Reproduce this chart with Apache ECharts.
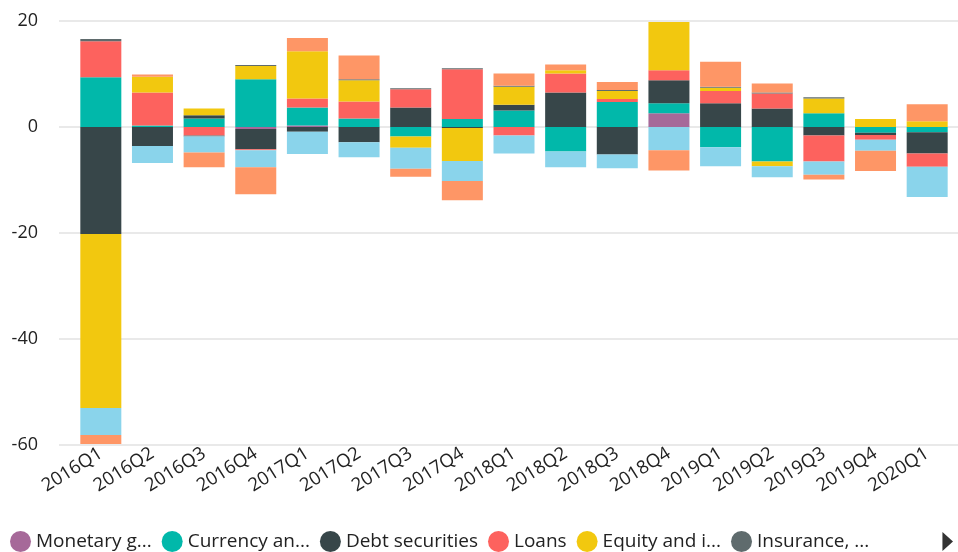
<!DOCTYPE html>
<html lang="en">
<head>
<meta charset="utf-8" />
<title>Financial account</title>
<script src="https://cdn.jsdelivr.net/npm/echarts@6/dist/echarts.min.js"></script>
<style>
  html, body { margin: 0; padding: 0; background: #fff; }
  #main { width: 958px; height: 552px; }
</style>
</head>
<body>
<div id="main"></div>
<script>
// quarters on the x axis
var quarters = ['2016Q1', '2016Q2', '2016Q3', '2016Q4', '2017Q1', '2017Q2', '2017Q3', '2017Q4',
  '2018Q1', '2018Q2', '2018Q3', '2018Q4', '2019Q1', '2019Q2', '2019Q3', '2019Q4', '2020Q1'];

// values per instrument
var monetaryGold = [0, 0, 0, -0.4, 0.3, 0, 0, 0, 0, 0, 0, 2.6, 0, 0, 0, 0, 0];
var currencyDeposits = [9.4, 0.3, 1.6, 9.0, 3.4, 1.6, -1.8, 1.5, 3.1, -4.6, 4.7, 1.9, -3.8, -6.5, 2.6, -1.1, -1.0];
var debtSecurities = [-20.2, -3.6, 0.6, -3.8, -0.9, -2.9, 3.7, -0.2, 1.1, 6.5, -5.2, 4.3, 4.5, 3.5, -1.6, -0.4, -4.0];
var loans = [6.8, 6.2, -1.6, -0.2, 1.7, 3.2, 3.4, 9.4, -1.6, 3.6, 0.6, 1.9, 2.3, 2.8, -4.9, -0.9, -2.5];
var equity = [-32.8, 3.0, 1.3, 2.5, 8.9, 4.0, -2.1, -6.2, 3.4, 0.6, 1.5, 9.1, 0.6, -0.9, 2.8, 1.5, 1.1];
var insurance = [0.4, 0, -0.2, 0.2, 0, 0.2, 0.2, 0.2, 0.2, 0, 0.2, 0, 0.2, 0.2, 0.2, 0, 0];
var derivatives = [-5.1, -3.2, -3.0, -3.2, -4.2, -2.8, -4.0, -3.8, -3.4, -3.0, -2.6, -4.4, -3.6, -2.1, -2.5, -2.1, -5.7];
var otherAccounts = [-1.7, 0.4, -2.8, -5.1, 2.5, 4.5, -1.5, -3.6, 2.3, 1.1, 1.5, -3.8, 4.7, 1.7, -0.9, -3.8, 3.2];

var seriesNames = ['Monetary gold and SDRs', 'Currency and deposits', 'Debt securities', 'Loans',
  'Equity and investment fund shares', 'Insurance, pension and standardised guarantee schemes',
  'Financial derivatives and employee stock options', 'Other accounts receivable/payable'];
// legend shows the names cut short
var legendLabels = ['Monetary g...', 'Currency an...', 'Debt securities', 'Loans',
  'Equity and i...', 'Insurance, ...', 'Financial de...', 'Other accou...'];
var seriesData = [monetaryGold, currencyDeposits, debtSecurities, loans, equity, insurance, derivatives, otherAccounts];
var colors = ['#a66999', '#01b8aa', '#374649', '#fd625e', '#f2c80f', '#5f6b6d', '#8ad4eb', '#fe9666'];

var yTicks = { min: -60, max: 20, interval: 20 };
var FONT = "'Open Sans', 'Noto Sans', sans-serif";

var myChart = echarts.init(document.getElementById('main'));

var series = seriesNames.map(function (name, i) {
  return {
    name: name,
    type: 'bar',
    stack: 'total',
    xAxisIndex: 1,
    yAxisIndex: 1,
    barWidth: 41,
    itemStyle: { color: colors[i] },
    data: seriesData[i]
  };
});

var option = {
  animation: false,
  color: colors,
  textStyle: { fontFamily: FONT },
  grid: [
    { left: 59, right: 0, top: 21, bottom: 107 },
    { left: 75, right: 5, top: 21, bottom: 107 }
  ],
  xAxis: [
    { gridIndex: 0, type: 'value', show: false, min: 0, max: 1 },
    {
      gridIndex: 1,
      type: 'category',
      data: quarters,
      axisLine: { show: false },
      axisTick: { show: false },
      axisLabel: { rotate: 32, fontSize: 18.5, color: '#222', margin: 7, interval: 0, fontFamily: FONT }
    }
  ],
  yAxis: [
    {
      gridIndex: 0,
      type: 'value',
      min: yTicks.min, max: yTicks.max, interval: yTicks.interval,
      axisLine: { show: false },
      axisTick: { show: false },
      axisLabel: { fontSize: 18, color: '#222', margin: 21, fontFamily: FONT },
      splitLine: { lineStyle: { color: '#e9e9e9', width: 2 } }
    },
    {
      gridIndex: 1,
      type: 'value',
      show: false,
      min: yTicks.min, max: yTicks.max, interval: yTicks.interval,
      splitLine: { show: false }
    }
  ],
  legend: {
    type: 'scroll',
    left: 5,
    right: 14,
    top: 526,
    icon: 'circle',
    itemWidth: 21,
    itemHeight: 21,
    itemGap: 10,
    formatter: function (name) {
      return legendLabels[seriesNames.indexOf(name)];
    },
    textStyle: { fontSize: 19, color: '#222', fontFamily: FONT },
    pageFormatter: ' ',
    pageTextStyle: { color: 'rgba(0,0,0,0)' },
    pageIconSize: [11, 19],
    pageIconColor: '#333',
    pageIconInactiveColor: 'rgba(0,0,0,0)',
    pageButtonItemGap: 0,
    pageButtonGap: 31,
    pageIcons: { horizontal: ['path://M10,0 L0,9 L10,18 Z', 'path://M0,0 L10,9 L0,18 Z'] },
    data: seriesNames
  },
  series: series
};

myChart.setOption(option);
</script>
</body>
</html>
